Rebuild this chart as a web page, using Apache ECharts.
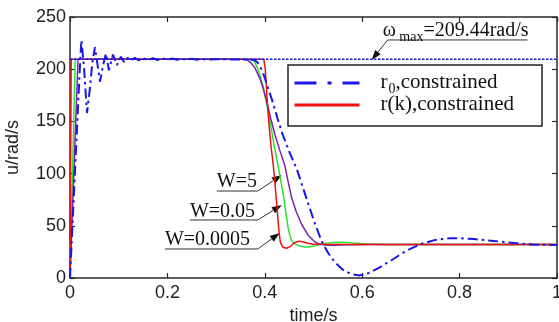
<!DOCTYPE html>
<html>
<head>
<meta charset="utf-8">
<script src="https://cdn.jsdelivr.net/npm/echarts@6/dist/echarts.min.js"></script>
<style>
  html, body {margin: 0; padding: 0; background: #fff;}
  #main {width: 559px; height: 322px;}
</style>
</head>
<body>
<div id="main"></div>
<script>
// axis ticks
const xTickValues = [0, 0.2, 0.4, 0.6, 0.8, 1];
const yTickValues = [0, 50, 100, 150, 200, 250];
const omegaMax = 209.44;

// speed limit line
const omegaLine = [[0, omegaMax], [1, omegaMax]];

// r0, constrained (blue dash-dot)
const r0Constrained = [
  [0, 0], [0.021, 209], [0.0235, 228], [0.0255, 228], [0.029, 200], [0.0349, 158], [0.04, 178],
  [0.046, 207], [0.0513, 221], [0.056, 206], [0.0615, 188], [0.068, 204], [0.0738, 215],
  [0.08, 199], [0.0882, 214], [0.0964, 204], [0.1046, 212], [0.1108, 207], [0.118, 211],
  [0.125, 208], [0.133, 211], [0.141, 208.5], [0.15, 210.5], [0.16, 208.5], [0.17, 210.5],
  [0.18, 208.8], [0.19, 210.3], [0.2, 208.8], [0.21, 210.2], [0.22, 209], [0.23, 210],
  [0.24, 209], [0.25, 210], [0.26, 209], [0.27, 209.8], [0.28, 209.2], [0.3, 209.6],
  [0.33, 209.4], [0.37, 209.4], [0.38, 208.5], [0.388, 205], [0.396, 197], [0.406, 183],
  [0.416, 169], [0.426, 153], [0.437, 137], [0.451, 120], [0.466, 104], [0.478, 87],
  [0.49, 70], [0.503, 52], [0.517, 35], [0.53, 24], [0.544, 15], [0.56, 8], [0.578, 3.5],
  [0.595, 2.5], [0.612, 4.5], [0.635, 10], [0.66, 17], [0.69, 26], [0.72, 32.5],
  [0.75, 36.5], [0.78, 38], [0.8, 38.2], [0.83, 37.3], [0.87, 35.5], [0.913, 33.5],
  [0.95, 32], [1, 31.5]
];

// r(k), constrained (red)
const rkConstrained = [
  [0, 0], [0.0025, omegaMax], [0.398, omegaMax], [0.401, 200], [0.405, 170], [0.409, 145],
  [0.413, 125], [0.417, 110], [0.421, 90], [0.425, 68], [0.429, 45], [0.432, 34],
  [0.437, 29.5], [0.445, 28.5], [0.452, 30], [0.46, 33.5], [0.47, 35.3], [0.48, 34.5],
  [0.49, 33], [0.5, 32.4], [0.6, 32.2], [1, 32.2]
];

// green curve
const wGreen = [
  [0, 0], [0.0107, omegaMax], [0.37, omegaMax], [0.378, 208], [0.386, 200], [0.396, 185],
  [0.403, 169], [0.41, 152], [0.418, 130], [0.427, 108], [0.433, 93], [0.439, 77],
  [0.444, 60], [0.449, 45], [0.455, 36], [0.462, 32.5], [0.47, 30.8], [0.48, 29.8],
  [0.49, 29.7], [0.505, 31], [0.52, 32.8], [0.54, 34], [0.56, 34.3], [0.58, 33.6],
  [0.61, 32.6], [0.65, 32.2], [1, 32.2]
];

// purple curve
const wPurple = [
  [0, 0], [0.0165, omegaMax], [0.355, omegaMax], [0.365, 208.5], [0.372, 206], [0.38, 201],
  [0.39, 191], [0.397, 181], [0.404, 169], [0.412, 153], [0.421, 137], [0.431, 122],
  [0.441, 108], [0.448, 92], [0.455, 77], [0.465, 63], [0.476, 51], [0.489, 41],
  [0.503, 34.5], [0.513, 32.5], [0.523, 31.6], [0.54, 31.4], [0.57, 31.8], [0.62, 32.2],
  [1, 32.2]
];

// annotations: text anchor, then leader path (far end, joint, arrow tip) in data units
const notes = [
  {text: '{a|ω}{s| max}{a|=209.44rad/s}', at: [0.642, 236.6],
    path: [[0.9395, 228], [0.6523, 228], [0.6195, 208.8]]},
  {text: '{a|W=5}', at: [0.3015, 92], path: [[0.3015, 83.3], [0.3856, 83.3], [0.4349, 98.7]]},
  {text: '{a|W=0.05}', at: [0.2462, 63.2], path: [[0.2462, 55.6], [0.3856, 55.6], [0.4349, 69.9]]},
  {text: '{a|W=0.0005}', at: [0.1949, 36.4], path: [[0.1949, 27.8], [0.3856, 27.8], [0.4308, 43.1]]}
];

const serif = 'Liberation Serif';
const sans = 'Liberation Sans';
const axisColor = '#2a2a2a';
const blue = '#1818e6';
const red = '#f01010';

const chart = echarts.init(document.getElementById('main'));

const baseX = {
  type: 'value',
  min: xTickValues[0],
  max: xTickValues[xTickValues.length - 1],
  interval: xTickValues[1] - xTickValues[0],
  splitLine: {show: false},
  axisLine: {onZero: false, lineStyle: {color: axisColor, width: 1.5}},
  axisTick: {inside: true, length: 5, lineStyle: {color: axisColor, width: 1.2}}
};
const baseY = {
  type: 'value',
  min: yTickValues[0],
  max: yTickValues[yTickValues.length - 1],
  interval: yTickValues[1] - yTickValues[0],
  splitLine: {show: false},
  axisLine: {onZero: false, lineStyle: {color: axisColor, width: 1.5}},
  axisTick: {inside: true, length: 5, lineStyle: {color: axisColor, width: 1.2}}
};

const richSub = {
  a: {fontFamily: serif, fontSize: 21, color: '#111', verticalAlign: 'top', lineHeight: 22},
  s: {fontFamily: serif, fontSize: 14, color: '#111', verticalAlign: 'top', lineHeight: 14, padding: [10, 0, 0, 1]}
};

const option = {
  animation: false,
  backgroundColor: '#fff',
  grid: {left: 70, right: 2, top: 17, bottom: 44, containLabel: false, outerBoundsMode: 'none'},
  xAxis: [
    Object.assign({}, baseX, {
      position: 'bottom',
      name: 'time/s', nameLocation: 'middle', nameGap: 25,
      nameTextStyle: {fontFamily: sans, fontSize: 18, color: '#222'},
      axisLabel: {fontFamily: sans, fontSize: 18, color: '#222', margin: 6}
    }),
    Object.assign({}, baseX, {position: 'top', axisLabel: {show: false}})
  ],
  yAxis: [
    Object.assign({}, baseY, {
      position: 'left',
      name: 'u/rad/s', nameLocation: 'middle', nameGap: 48,
      nameTextStyle: {fontFamily: sans, fontSize: 18, color: '#222'},
      axisLabel: {fontFamily: sans, fontSize: 18, color: '#222', margin: 4}
    }),
    Object.assign({}, baseY, {position: 'right', axisLabel: {show: false}})
  ],
  legend: {
    orient: 'vertical',
    left: 288, top: 65,
    backgroundColor: '#fff',
    borderColor: '#222', borderWidth: 1.5, borderRadius: 0,
    padding: [7, 28, 11, 5],
    itemWidth: 65, itemHeight: 20, itemGap: -2,
    itemStyle: {opacity: 0},
    textStyle: {padding: [0, 0, 0, 16], rich: richSub},
    formatter: name => name === 'r0,constrained' ? '{a|r}{s|0}{a|,constrained}' : '{a|r(k),constrained}',
    data: [
      {name: 'r0,constrained', lineStyle: {width: 3, type: [22, 11, 4, 11], color: blue}},
      {name: 'r(k),constrained', lineStyle: {width: 3, color: red}}
    ]
  },
  series: [
    {name: 'W green', type: 'line', data: wGreen, symbol: 'none', lineStyle: {color: '#2ee02e', width: 1.5}},
    {name: 'W purple', type: 'line', data: wPurple, symbol: 'none', lineStyle: {color: '#7b22a8', width: 1.5}},
    {name: 'r(k),constrained', type: 'line', data: rkConstrained, symbol: 'none', color: red, lineStyle: {color: red, width: 1.5}},
    {name: 'r0,constrained', type: 'line', data: r0Constrained, symbol: 'none', color: blue, lineStyle: {color: blue, width: 2, type: [10, 4, 2.5, 4]}},
    {name: 'omega max', type: 'line', data: omegaLine, symbol: 'none', lineStyle: {color: blue, width: 1.5, type: [2.5, 1.5]}}
  ]
};

chart.setOption(option);

// leader lines with arrow heads, placed through the chart's own scales
const px = p => chart.convertToPixel({xAxisIndex: 0, yAxisIndex: 0}, p);
const graphics = [];
notes.forEach(n => {
  const pts = n.path.map(px);
  const tip = pts[2], joint = pts[1];
  const dx = tip[0] - joint[0], dy = tip[1] - joint[1];
  const len = Math.sqrt(dx * dx + dy * dy);
  const ux = dx / len, uy = dy / len;
  const headLen = 10, headHalf = 3.5;
  const base = [tip[0] - ux * headLen, tip[1] - uy * headLen];
  graphics.push({
    type: 'polyline', silent: true,
    shape: {points: [pts[0], joint, base]},
    style: {stroke: '#333', lineWidth: 1, fill: null}
  });
  graphics.push({
    type: 'polygon', silent: true,
    shape: {points: [tip, [base[0] - uy * headHalf, base[1] + ux * headHalf], [base[0] + uy * headHalf, base[1] - ux * headHalf]]},
    style: {fill: '#111'}
  });
  const at = px(n.at);
  graphics.push({
    type: 'text', silent: true, x: at[0], y: at[1],
    style: {
      text: n.text, align: 'left', verticalAlign: 'middle',
      rich: {
        a: {fontFamily: serif, fontSize: 20, fill: '#111', verticalAlign: 'top', lineHeight: 20},
        s: {fontFamily: serif, fontSize: 14, fill: '#111', verticalAlign: 'top', lineHeight: 14, padding: [9, 0, 0, 0]}
      }
    }
  });
});
chart.setOption({graphic: graphics});
</script>
</body>
</html>
